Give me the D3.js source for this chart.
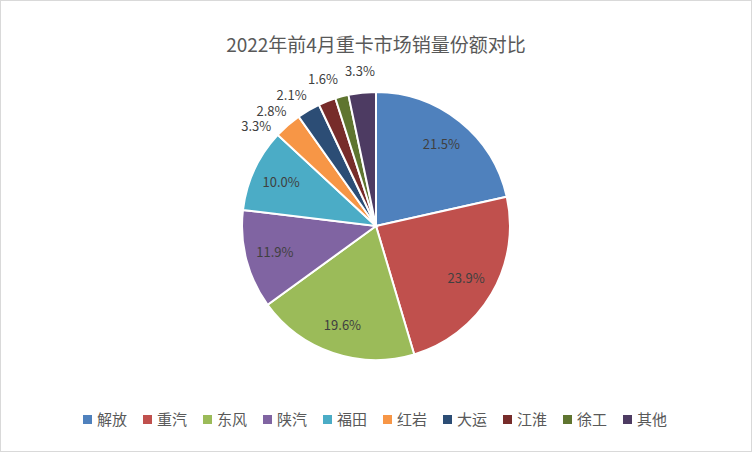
<!DOCTYPE html>
<html><head><meta charset="utf-8">
<script src="https://cdn.jsdelivr.net/npm/d3@7"></script>
<style>body{margin:0;background:#fff}text{font-family:"Noto Sans CJK SC","Noto Sans",sans-serif}</style>
</head><body>
<svg id="c" width="752" height="452"></svg>
<script>
const categories = ['解放','重汽','东风','陕汽','福田','红岩','大运','江淮','徐工','其他'];
const shares = [21.5, 23.9, 19.6, 11.9, 10.0, 3.3, 2.8, 2.1, 1.6, 3.3];
const colors = ['#4F81BD','#C0504D','#9BBB59','#8064A2','#4BACC6','#F79646','#2C4D75','#772C2A','#5F7530','#4D3B62'];

const svg = d3.select('#c');
svg.append('rect').attr('x',0.5).attr('y',0.5).attr('width',751).attr('height',451)
  .attr('fill','#fff').attr('stroke','#d9d9d9');
svg.append('text').attr('x',376).attr('y',52).attr('text-anchor','middle')
  .attr('font-size',19).attr('fill','#595959').text('2022年前4月重卡市场销量份额对比');

const cx = 376, cy = 226, r = 134;
const pie = d3.pie().sort(null).value(d => d)(shares);
const arc = d3.arc().innerRadius(0).outerRadius(r);
const g = svg.append('g').attr('transform', `translate(${cx},${cy})`);
g.selectAll('path').data(pie).join('path')
  .attr('d', arc).attr('fill', (d,i) => colors[i]).attr('stroke','#fff').attr('stroke-width',2);

const inner = d3.arc().innerRadius(r*0.78).outerRadius(r*0.78);
// label positions: big slices inside, small ones outside, nudged along the circle so they don't collide
const ro = r*1.16, lw = 36, lh = 15;
const pos = pie.map(d => {
  if (d.data >= 5) return inner.centroid(d);
  const a = (d.startAngle + d.endAngle)/2;
  return [ro*Math.sin(a), -ro*Math.cos(a), a];
});
for (let i = pie.length - 2; i >= 0; i--) {
  if (pie[i].data >= 5) break;
  let p = pos[i], q = pos[i+1];
  while (Math.abs(p[0]-q[0]) < lw && Math.abs(p[1]-q[1]) < lh) {
    p[2] -= 0.01;
    p[0] = ro*Math.sin(p[2]); p[1] = -ro*Math.cos(p[2]);
  }
}
g.selectAll('text.l').data(pie).join('text').attr('class','l')
  .attr('transform', (d,i) => `translate(${pos[i][0]},${pos[i][1]})`)
  .attr('text-anchor','middle').attr('dy','0.35em')
  .attr('font-size',13).attr('fill','#404040')
  .text(d => d.data.toFixed(1) + '%');

const lg = svg.append('g').attr('transform','translate(0,420)');
const widths = categories.map(c => 14 + c.length*16 + 14);
let total = d3.sum(widths) - 14;
let x0 = 376 - total/2;
categories.forEach((c,i) => {
  lg.append('rect').attr('x',x0).attr('y',-5).attr('width',9).attr('height',9).attr('fill',colors[i]);
  lg.append('text').attr('x',x0+14).attr('y',0).attr('dy','0.35em').attr('font-size',15).attr('fill','#595959').text(c);
  x0 += widths[i];
});
</script>
</body></html>
